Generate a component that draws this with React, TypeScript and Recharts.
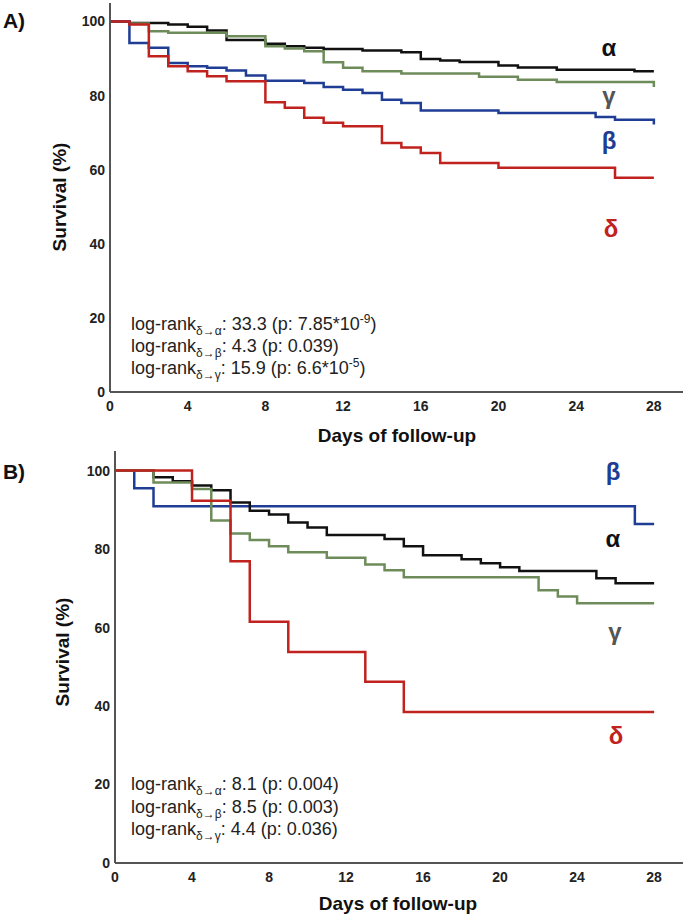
import React from "react";
import { LineChart, Line, XAxis, YAxis } from "recharts";

// Panel A: [day, survival %]
const alphaA: number[][] = [[0,100],[1,99.6],[3,99.2],[4,98.6],[5,97.6],[6,95],[8,94],[9,93.3],[10,92.9],[11,92.6],[13,92.2],[15,91.7],[16,89.9],[17,89.5],[18,89.1],[20,88.1],[21,87.6],[23,87],[27,86.6],[28,86.6]];
const gammaA: number[][] = [[0,100],[1,99.5],[2,97.4],[3,97],[6,96],[8,93.3],[9,92.7],[10,92],[11,89],[12,87.5],[13,86.6],[15,86],[19,85.1],[21,84.3],[23,83.7],[28,82.3]];
const betaA: number[][] = [[0,100],[1,94.2],[2,92.9],[3,88.8],[4,87.9],[5,87.5],[6,86.8],[7,85.4],[8,84],[10,83.4],[11,82.3],[12,81.6],[13,80.7],[14,78.9],[15,78],[16,76],[20,75.3],[25,74.2],[26,73.5],[28,72.2]];
const deltaA: number[][] = [[0,100],[1,99.2],[2,90.6],[3,87.9],[4,86.6],[5,85.2],[6,83.9],[8,78.2],[9,76.7],[10,74],[11,72.7],[12,71.7],[14,67.2],[15,66],[16,64.5],[17,61.8],[20,60.5],[26,57.8],[28,57.8]];

// Panel B: [day, survival %]
const alphaB: number[][] = [[0,100],[2,98.3],[3,97.3],[4,96.2],[5,95],[6,91.9],[7,89.8],[8,88.8],[9,86.8],[10,85.5],[11,83.6],[14,82.6],[15,80.7],[16,78.4],[18,77.4],[19,76.4],[20,75.4],[21,74.4],[25,72.6],[26,71.3],[28,71.3]];
const gammaB: number[][] = [[0,100],[2,97],[4,95.3],[5,87.3],[6,84],[7,82.3],[8,80.7],[9,79.2],[11,77.8],[13,76.1],[14,74.6],[15,72.8],[22,69.5],[23,67.9],[24,66.2],[28,66.2]];
const betaB: number[][] = [[0,100],[1,95.5],[2,90.9],[27,86.4],[28,86.4]];
const deltaB: number[][] = [[0,100],[4,92.3],[6,76.9],[7,61.5],[9,53.8],[13,46.2],[15,38.5],[28,38.5]];

const xTicks = [0, 4, 8, 12, 16, 20, 24, 28];
const yTicks = [0, 20, 40, 60, 80, 100];

const statsA = [
  { sub: "δ→α", text: ": 33.3 (p: 7.85*10", sup: "-9", tail: ")" },
  { sub: "δ→β", text: ": 4.3 (p: 0.039)", sup: "", tail: "" },
  { sub: "δ→γ", text: ": 15.9 (p: 6.6*10", sup: "-5", tail: ")" },
];
const statsB = [
  { sub: "δ→α", text: ": 8.1 (p: 0.004)", sup: "", tail: "" },
  { sub: "δ→β", text: ": 8.5 (p: 0.003)", sup: "", tail: "" },
  { sub: "δ→γ", text: ": 4.4 (p: 0.036)", sup: "", tail: "" },
];

const COLORS = { alpha: "#111111", gamma: "#6e8c5a", beta: "#1f3d94", delta: "#c0221e" };
const FONT = "'Liberation Sans', Arial, Helvetica, sans-serif";

const toObj = (arr: number[][]) => arr.map(([t, v]) => ({ t, v }));

function Panel({ series, yAxisWidth, marginTop, height, marginBottom }: any) {
  return (
    <LineChart width={685} height={height} margin={{ top: marginTop, right: 2, bottom: marginBottom, left: 0 }}>
      <XAxis
        type="number"
        dataKey="t"
        domain={[0, 29.5]}
        ticks={xTicks}
        allowDataOverflow
        tickLine={false}
        tickSize={0}
        tickMargin={9}
        axisLine={{ stroke: "#555", strokeWidth: 2 }}
        tick={{ fill: "#222", fontSize: 14, fontWeight: 700, fontFamily: FONT }}
        height={30}
      />
      <YAxis
        type="number"
        domain={[0, 105]}
        ticks={yTicks}
        allowDataOverflow
        tickLine={false}
        tickSize={0}
        tickMargin={5}
        axisLine={{ stroke: "#555", strokeWidth: 2 }}
        tick={{ fill: "#222", fontSize: 14, fontWeight: 700, fontFamily: FONT }}
        width={yAxisWidth}
      />
      {series.map((s: any) => (
        <Line
          key={s.name}
          data={toObj(s.data)}
          dataKey="v"
          type="stepAfter"
          stroke={s.color}
          strokeWidth={2.5}
          dot={false}
          isAnimationActive={false}
        />
      ))}
    </LineChart>
  );
}

const abs = (left: number, top: number, extra: any = {}): React.CSSProperties => ({
  position: "absolute",
  left,
  top,
  transform: "translate(-50%, -50%)",
  whiteSpace: "nowrap",
  fontFamily: FONT,
  ...extra,
});

function Stats({ rows, left, tops }: any) {
  return (
    <>
      {rows.map((r: any, i: number) => (
        <div
          key={i}
          style={{ position: "absolute", left, top: tops[i], transform: "translateY(-50%)", whiteSpace: "nowrap", fontFamily: FONT, fontSize: 18, color: "#222", lineHeight: "20px" }}
        >
          log-rank
          <span style={{ fontSize: 12, position: "relative", top: 5 }}>{r.sub}</span>
          {r.text}
          {r.sup ? <span style={{ fontSize: 12, position: "relative", top: -7 }}>{r.sup}</span> : null}
          {r.tail}
        </div>
      ))}
    </>
  );
}

export default function App() {
  const greek = { fontSize: 24, fontWeight: 700 };
  const title = { fontSize: 19, fontWeight: 700, color: "#111" };
  return (
    <div style={{ position: "absolute", left: 0, top: 0, width: 685, height: 920, background: "#fff", overflow: "hidden" }}>
      <div style={{ position: "absolute", left: 0, top: 0 }}>
        <Panel
          height={422}
          marginTop={3}
          marginBottom={0}
          yAxisWidth={110}
          series={[
            { name: "alpha", data: alphaA, color: COLORS.alpha },
            { name: "gamma", data: gammaA, color: COLORS.gamma },
            { name: "beta", data: betaA, color: COLORS.beta },
            { name: "delta", data: deltaA, color: COLORS.delta },
          ]}
        />
      </div>
      <div style={{ position: "absolute", left: 0, top: 440 }}>
        <Panel
          height={453}
          marginTop={11}
          marginBottom={0}
          yAxisWidth={115}
          series={[
            { name: "beta", data: betaB, color: COLORS.beta },
            { name: "alpha", data: alphaB, color: COLORS.alpha },
            { name: "gamma", data: gammaB, color: COLORS.gamma },
            { name: "delta", data: deltaB, color: COLORS.delta },
          ]}
        />
      </div>

      <div style={abs(14, 21, { fontSize: 21, fontWeight: 700, color: "#111" })}>A)</div>
      <div style={abs(14, 472, { fontSize: 21, fontWeight: 700, color: "#111" })}>B)</div>

      <div style={abs(60, 197, { ...title, transform: "translate(-50%, -50%) rotate(-90deg)" })}>Survival (%)</div>
      <div style={abs(63, 652, { ...title, transform: "translate(-50%, -50%) rotate(-90deg)" })}>Survival (%)</div>
      <div style={abs(397, 436, title)}>Days of follow-up</div>
      <div style={abs(398, 904, title)}>Days of follow-up</div>

      <div style={abs(609, 48, { ...greek, color: COLORS.alpha })}>α</div>
      <div style={abs(609, 96, { ...greek, color: "#555" })}>γ</div>
      <div style={abs(609, 141, { ...greek, color: COLORS.beta })}>β</div>
      <div style={abs(611, 229, { ...greek, color: COLORS.delta })}>δ</div>

      <div style={abs(613, 472, { ...greek, color: COLORS.beta })}>β</div>
      <div style={abs(613, 539, { ...greek, color: COLORS.alpha })}>α</div>
      <div style={abs(615, 632, { ...greek, color: "#555" })}>γ</div>
      <div style={abs(616, 736, { ...greek, color: COLORS.delta })}>δ</div>

      <Stats rows={statsA} left={131} tops={[325, 347, 369]} />
      <Stats rows={statsB} left={131} tops={[785, 808, 830]} />
    </div>
  );
}
